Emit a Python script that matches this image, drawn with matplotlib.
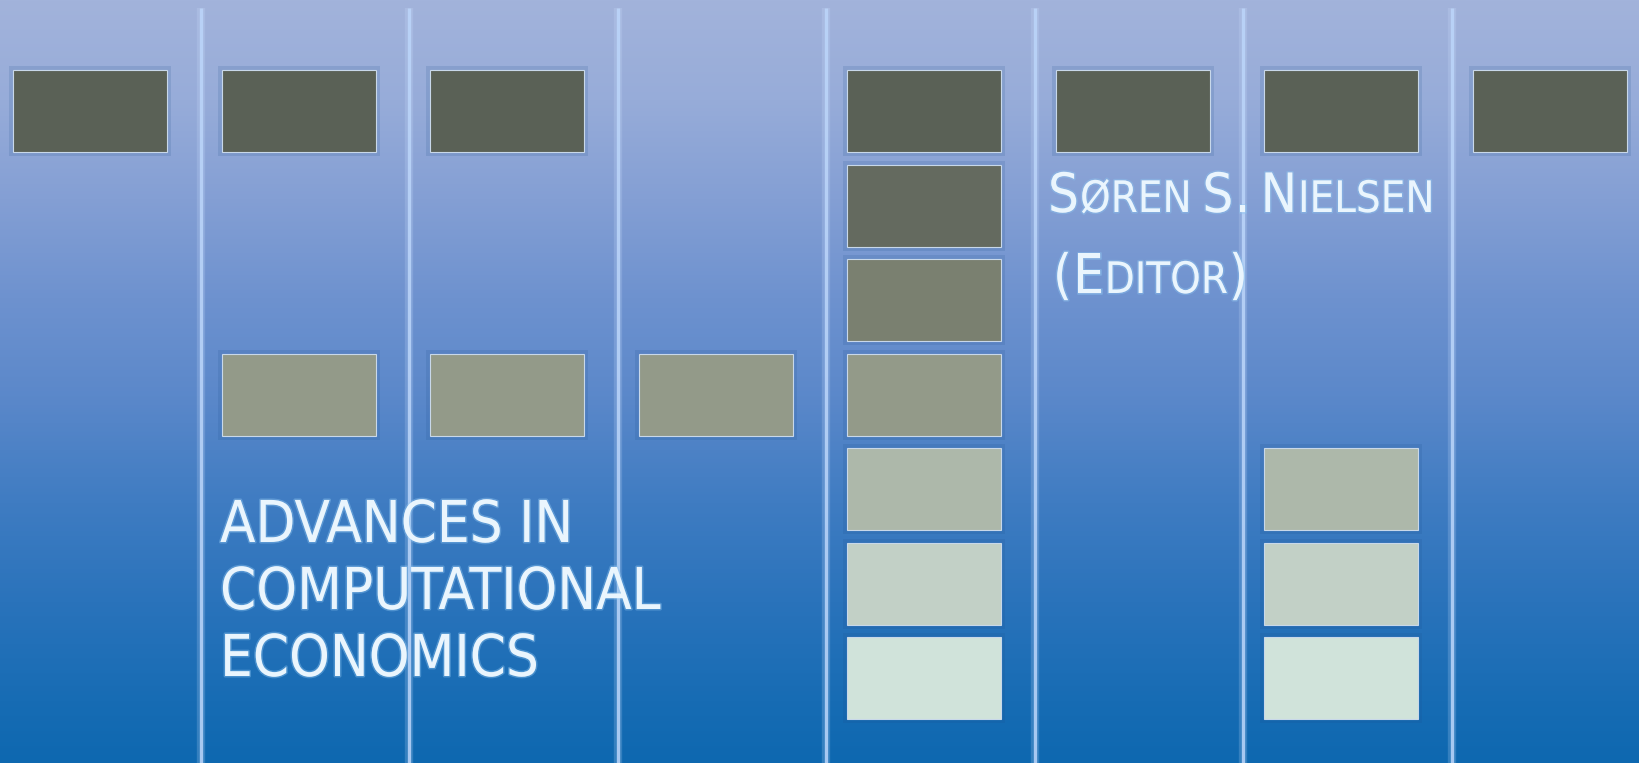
import numpy as np
import matplotlib
matplotlib.use('Agg')
import matplotlib.pyplot as plt
from matplotlib import font_manager
from matplotlib.font_manager import FontProperties
from matplotlib.colors import LinearSegmentedColormap
import matplotlib.patheffects as pe

# tiles: column index and row index of every grey block
tile_cols = [0, 1, 2, 4, 5, 6, 7, 4, 4, 1, 2, 3, 4, 4, 6, 4, 6, 4, 6]
tile_rows = [0, 0, 0, 0, 0, 0, 0, 1, 2, 3, 3, 3, 3, 4, 4, 5, 5, 6, 6]
row_colors = ['#5a6156', '#646a5f', '#7a8070', '#939a89', '#adb8aa', '#c2d0c6', '#d0e3da']
divider_cols = [1, 2, 3, 4, 5, 6, 7]

title_lines = ['ADVANCES IN', 'COMPUTATIONAL', 'ECONOMICS']
author_line = [('S', 'big'), ('ØREN', 'small'), (' ', 'gap'), ('S', 'big'), ('.', 'big'),
               (' ', 'gap'), ('N', 'big'), ('IELSEN', 'small')]
editor_line = [('(', 'big'), ('E', 'big'), ('DITOR', 'small'), (')', 'big')]

bg_pos = [0.0, 0.13, 0.26, 0.39, 0.52, 0.66, 0.79, 0.92, 1.0]
bg_colors = ['#a2b3db', '#97acd9', '#849fd4', '#6e92cf', '#5b88ca', '#3f7cc2', '#2a73bb', '#176cb4', '#0e68b0']

W, H = 1639, 763
col_x0, col_pitch, tile_w = 13, 208.5, 154
row_y0, row_pitch, tile_h = 70, 94.5, 82

# look for an upright narrow face, else a light sans
fl = font_manager.fontManager.ttflist
narrow = [f for f in fl if ('Narrow' in f.name or 'Condensed' in f.name
                            or f.stretch in ('condensed', 'semi-condensed', 'extra-condensed'))
          and f.style == 'normal'
          and 'Oblique' not in f.fname and 'Italic' not in f.fname]
plain = [f for f in narrow if f.weight in (300, 400, 'normal', 'light', 'regular', 'book')
         and 'Bold' not in f.fname]
narrow = plain or narrow
names = {f.name for f in fl}


def fprop(size):
    if narrow:
        return FontProperties(fname=narrow[0].fname, size=size)
    fam = 'Roboto' if 'Roboto' in names else 'Liberation Sans'
    return FontProperties(family=fam, weight='light', size=size)


fig = plt.figure(figsize=(W / 100, H / 100), dpi=100)
ax = fig.add_axes([0, 0, 1, 1])
ax.set_xlim(0, W)
ax.set_ylim(H, 0)
ax.axis('off')

cmap = LinearSegmentedColormap.from_list('bg', list(zip(bg_pos, bg_colors)))
ax.imshow(np.linspace(0, 1, 256).reshape(-1, 1), cmap=cmap, aspect='auto',
          extent=(0, W, H, 0), zorder=0)

div_x = [col_x0 + k * col_pitch - 21 for k in divider_cols]
ax.vlines(div_x, 8, H, color='#cfe2ff', alpha=0.2, linewidth=6, zorder=1)
ax.vlines(div_x, 8, H, color='#bcd6fa', alpha=0.85, linewidth=2.4, zorder=1)

xs = [col_x0 + c * col_pitch for c in tile_cols]
ys = [row_y0 + r * row_pitch for r in tile_rows]
cs = [row_colors[r] for r in tile_rows]
ax.bar([x - 4 for x in xs], tile_h + 8, width=tile_w + 8, bottom=[y - 4 for y in ys],
       align='edge', color='#1d4f8c', alpha=0.15, linewidth=0, zorder=2)
ax.bar(xs, tile_h, width=tile_w, bottom=ys, align='edge', color=cs,
       edgecolor='#c8d8ea', linewidth=0.8, zorder=3)

glow = [pe.withStroke(linewidth=2.2, foreground='#8cc4f0', alpha=0.4)]
txt_color = '#eaf5fd'
renderer = fig.canvas.get_renderer()


def put(x, y, s, size):
    return ax.text(x, y, s, fontproperties=fprop(size), color=txt_color, va='baseline',
                   ha='left', path_effects=glow, zorder=5)


# fit title size to the width of the longest line (max cap height ~50 px)
probe = put(220, 608, title_lines[1], 40)
w = probe.get_window_extent(renderer).width
probe.remove()
title_size = min(40 * 440 / w, 52)
for i, line in enumerate(title_lines):
    put(220, 542 + i * 67, line, title_size)


def small_caps(parts, x, y, big, small, gap):
    x0 = x
    made = []
    for s, kind in parts:
        if kind == 'gap':
            x += gap
            continue
        t = put(x, y, s, big if kind == 'big' else small)
        made.append(t)
        x += t.get_window_extent(renderer).width + 1
    return made, x - x0


made, total = small_caps(author_line, 1048, 212, 40, 32, 10)
for t in made:
    t.remove()
k = min(387 / total, 52 / 40)
small_caps(author_line, 1048, 212, 40 * k, 32 * k, 10 * k)
small_caps(editor_line, 1053, 293, 40 * k, 32 * k, 10 * k)

fig.savefig('out.png', dpi=100)
